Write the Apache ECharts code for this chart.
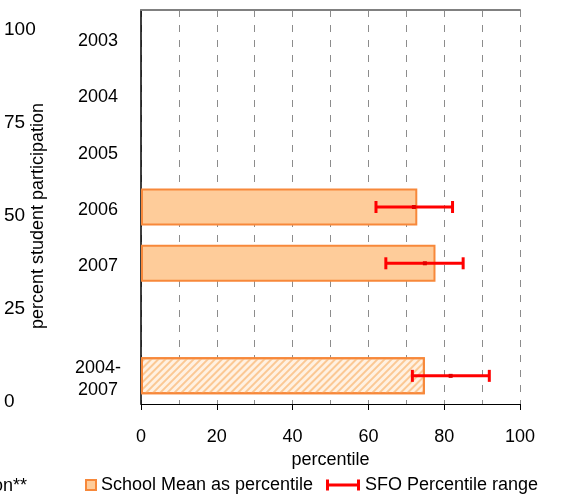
<!DOCTYPE html>
<html>
<head>
<meta charset="utf-8">
<script src="https://cdn.jsdelivr.net/npm/echarts@6/dist/echarts.min.js"></script>
<style>
  html, body { margin: 0; padding: 0; background: #fff; }
  #chart { width: 564px; height: 494px; }
</style>
</head>
<body>
<div id="chart"></div>
<script>
// categories, top to bottom
var categories = ['2003', '2004', '2005', '2006', '2007', '', '2004-\n2007'];
// school mean as percentile (bars)
var schoolMean = [null, null, null, 72.9, 77.7, null, 74.9];
// SFO percentile range (error bars)
var sfoLow = [null, null, null, 62.0, 64.6, null, 71.6];
var sfoMid = [null, null, null, 72.0, 74.9, null, 81.7];
var sfoHigh = [null, null, null, 82.2, 85.0, null, 91.9];
// left participation scale
var participationTicks = [0, 25, 50, 75, 100];

var FONT = '"Liberation Sans", Arial, sans-serif';
var chart = echarts.init(document.getElementById('chart'));

// bars, the last one (combined years) is hatched
var barData = schoolMean.map(function (v, i) {
  if (v == null) return '-';
  if (i === categories.length - 1) {
    return {
      value: v,
      itemStyle: {
        color: '#FFF1E2',
        decal: {
          symbol: 'rect',
          symbolSize: 1,
          color: '#FBC894',
          dashArrayX: [1, 0],
          dashArrayY: [2, 3],
          rotation: -Math.PI / 4
        }
      }
    };
  }
  return v;
});

var errData = [];
for (var i = 0; i < categories.length; i++) {
  if (sfoLow[i] != null) errData.push([i, sfoLow[i], sfoMid[i], sfoHigh[i]]);
}

function renderErr(params, api) {
  var cat = api.value(0);
  var lo = api.coord([api.value(1), cat]);
  var mid = api.coord([api.value(2), cat]);
  var hi = api.coord([api.value(3), cat]);
  var red = '#FF0000';
  var cap = 6;
  return {
    type: 'group',
    children: [
      { type: 'line', shape: { x1: lo[0], y1: lo[1], x2: hi[0], y2: hi[1] },
        style: { stroke: red, lineWidth: 3 } },
      { type: 'line', shape: { x1: lo[0], y1: lo[1] - cap, x2: lo[0], y2: lo[1] + cap },
        style: { stroke: red, lineWidth: 3 } },
      { type: 'line', shape: { x1: hi[0], y1: hi[1] - cap, x2: hi[0], y2: hi[1] + cap },
        style: { stroke: red, lineWidth: 3 } },
      { type: 'rect', shape: { x: mid[0] - 2, y: mid[1] - 2, width: 4, height: 4 },
        style: { fill: '#E00000' } }
    ]
  };
}

var legendText = { fontSize: 18, fontFamily: FONT, color: '#000' };

var option = {
  animation: false,
  textStyle: { fontFamily: FONT, color: '#000' },
  grid: [
    { left: 141, right: 44, top: 10, bottom: 90 },
    { left: 48, width: 10, top: 30, bottom: 92 }
  ],
  legend: [
    {
      left: 85, top: 476, padding: 0, itemWidth: 10, itemHeight: 10, itemGap: 0,
      textStyle: legendText,
      data: [{ name: 'School Mean as percentile', icon: 'rect' }]
    },
    {
      left: 326, top: 476, padding: 0, itemWidth: 34, itemHeight: 11,
      textStyle: legendText,
      data: [{
        name: 'SFO Percentile range',
        icon: 'path://M0,0H3V11H0ZM31,0H34V11H31ZM0,4H34V7H0Z',
        itemStyle: { color: '#FF0000' }
      }]
    }
  ],
  xAxis: [
    {
      type: 'value', gridIndex: 0, min: 0, max: 100, interval: 20,
      name: 'percentile', nameLocation: 'middle', nameGap: 46,
      nameTextStyle: { fontSize: 18, fontFamily: FONT, color: '#000' },
      axisLine: { show: true, lineStyle: { color: '#000', width: 1 } },
      axisTick: { show: true, length: 6, lineStyle: { color: '#000' } },
      axisLabel: { fontSize: 18, margin: 24, color: '#000' },
      splitLine: { show: true, lineStyle: { color: '#8c8c8c', type: [7, 8], width: 1 } },
      minorTick: { show: false, splitNumber: 2 },
      minorSplitLine: { show: true, lineStyle: { color: '#8c8c8c', type: [7, 8], width: 1 } }
    },
    {
      type: 'value', gridIndex: 0, position: 'top', min: 0, max: 100,
      axisLine: { show: true, lineStyle: { color: '#808080', width: 2 } },
      axisTick: { show: false }, axisLabel: { show: false }, splitLine: { show: false }
    },
    {
      type: 'value', gridIndex: 1, show: false
    }
  ],
  yAxis: [
    {
      type: 'category', gridIndex: 0, data: categories, inverse: true,
      axisLine: { show: true, lineStyle: { color: '#000', width: 1.5 } },
      axisTick: { show: false },
      axisLabel: {
        margin: 43, align: 'center', color: '#000',
        formatter: function (v) {
          return v.split('\n').map(function (s) { return '{c|' + s + '}'; }).join('\n');
        },
        rich: { c: { fontSize: 18, fontFamily: FONT, lineHeight: 22, padding: [6, 0, 0, 0], align: 'center' } }
      },
      splitLine: {
        show: true,
        interval: function (index) { return index === categories.length - 1; },
        lineStyle: { color: '#8c8c8c', type: [7, 8] }
      }
    },
    {
      type: 'value', gridIndex: 1, min: 0, max: 100, interval: 25,
      name: 'percent student participation', nameLocation: 'middle', nameGap: 11,
      nameRotate: 90, nameMoveOverlap: false,
      nameTextStyle: { fontSize: 18, fontFamily: FONT, color: '#000' },
      axisLine: { show: false }, axisTick: { show: false }, splitLine: { show: false },
      axisLabel: {
        fontSize: 19, margin: 54, align: 'left', color: '#000',
        formatter: function (v) { return participationTicks.indexOf(v) >= 0 ? v : ''; }
      }
    }
  ],
  series: [
    {
      name: 'School Mean as percentile',
      type: 'bar',
      xAxisIndex: 0, yAxisIndex: 0,
      barWidth: 37,
      data: barData,
      itemStyle: { color: '#FECC9A', borderColor: '#F7883A', borderWidth: 2 }
    },
    {
      name: 'SFO Percentile range',
      type: 'custom',
      xAxisIndex: 0, yAxisIndex: 0,
      renderItem: renderErr,
      encode: { x: [1, 2, 3], y: 0 },
      itemStyle: { color: '#FF0000' },
      data: errData,
      z: 5
    }
  ],
  graphic: [
    {
      type: 'text', right: 537, top: 477,
      style: { text: 'participation**', font: '18px ' + FONT, fill: '#000' }
    }
  ]
};

chart.setOption(option);
</script>
</body>
</html>
